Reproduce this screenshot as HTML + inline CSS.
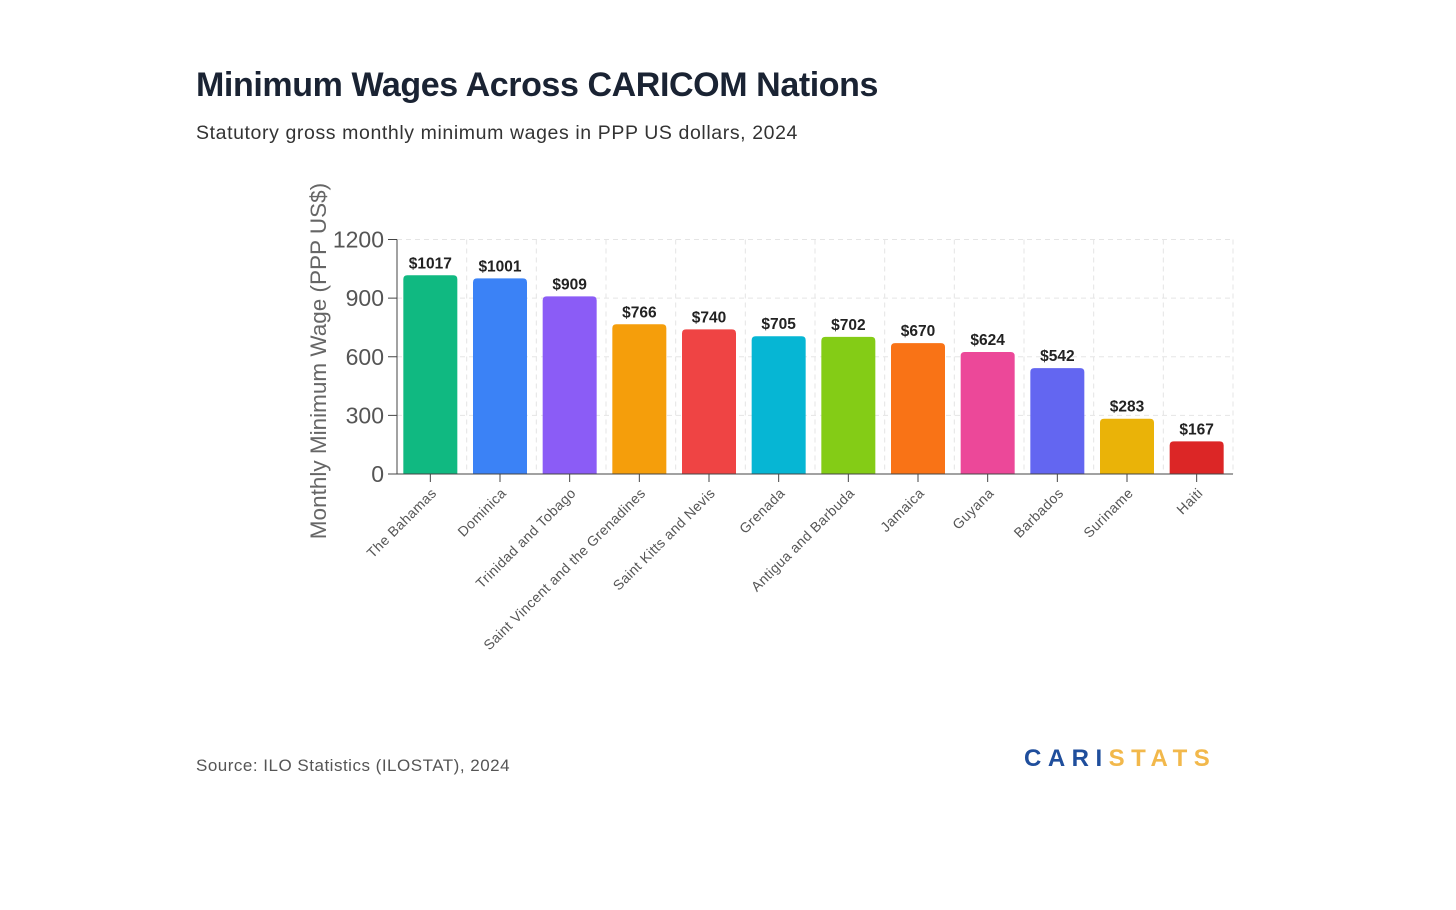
<!DOCTYPE html>
<html><head><meta charset="utf-8">
<style>
body{margin:0;background:#fff;width:1456px;height:910px;overflow:hidden;font-family:"Liberation Sans",sans-serif;}
#title{position:absolute;left:196px;top:66px;font-size:34px;font-weight:bold;color:#1a2333;letter-spacing:-0.4px;}
#subtitle{position:absolute;left:196px;top:122px;font-size:19.5px;color:#333;letter-spacing:0.6px;}
#source{position:absolute;left:196px;top:756px;font-size:17px;color:#555;letter-spacing:0.5px;}
#logo{position:absolute;left:1024px;top:745px;font-size:24px;font-weight:bold;letter-spacing:6.5px;}
svg{position:absolute;left:0;top:0;}
</style></head><body>
<div id="title">Minimum Wages Across CARICOM Nations</div>
<div id="subtitle">Statutory gross monthly minimum wages in PPP US dollars, 2024</div>
<div id="source">Source: ILO Statistics (ILOSTAT), 2024</div>
<div id="logo"><span style="color:#1f4e9c">CARI</span><span style="color:#f2b84b">STATS</span></div>
<svg id="chart" width="1456" height="910"></svg>
<script>
const categories=["The Bahamas","Dominica","Trinidad and Tobago","Saint Vincent and the Grenadines","Saint Kitts and Nevis","Grenada","Antigua and Barbuda","Jamaica","Guyana","Barbados","Suriname","Haiti"];
const values=[1017,1001,909,766,740,705,702,670,624,542,283,167];
const colors=["#10b981","#3b82f6","#8b5cf6","#f59e0b","#ef4444","#06b6d4","#84cc16","#f97316","#ec4899","#6366f1","#eab308","#dc2626"];
const yTicks=[0,300,600,900,1200];
const X0=397,X1=1233,Y0=474,Y1=239.5,YMAX=1200;
const band=(X1-X0)/categories.length;
const y=v=>Y0-(v/YMAX)*(Y0-Y1);
const xc=i=>X0-1.5+band*(i+0.5);
const svg=document.getElementById('chart');
const NS="http://www.w3.org/2000/svg";
function mk(t,a){const e=document.createElementNS(NS,t);for(const k in a)e.setAttribute(k,a[k]);svg.appendChild(e);return e;}
yTicks.forEach(t=>{
  const g=mk('line',{x1:X0,x2:X1,y1:y(t),y2:y(t),stroke:'#e5e5e5','stroke-dasharray':'5,4'});
  
  
  const tk=mk('line',{x1:X0-9,x2:X0,y1:y(t),y2:y(t),stroke:'#444'});
  
  
  const l=mk('text',{x:X0-13,y:y(t)+8,'text-anchor':'end','font-size':23,fill:'#555'});
  l.textContent=t;
  
  
});
categories.forEach((c,i)=>{
  const gx=X0+band*(i+1);
  const g=mk('line',{x1:gx,x2:gx,y1:Y1,y2:Y0,stroke:'#e5e5e5','stroke-dasharray':'5,4'});
  
  
});
const bw=54;
categories.forEach((c,i)=>{
  const x=xc(i)-bw/2,top=y(values[i]),h=Y0-top,r=4;
  const p=mk('path',{d:`M${x},${Y0}V${top+r}Q${x},${top} ${x+r},${top}H${x+bw-r}Q${x+bw},${top} ${x+bw},${top+r}V${Y0}Z`,fill:colors[i]});
  
  
  const v=mk('text',{x:xc(i),y:top-7,'text-anchor':'middle','font-size':15.5,'font-weight':'bold',fill:'#222'});
  v.textContent='$'+values[i];
  
  
  const tk=mk('line',{x1:xc(i),x2:xc(i),y1:Y0,y2:Y0+8,stroke:'#444'});
  
  
  const lx=xc(i)+7,ly=Y0+20;
  const l=mk('text',{x:lx,y:ly,'text-anchor':'end','font-size':14,fill:'#555','letter-spacing':'0.4',transform:`rotate(-45 ${lx} ${ly})`});
  l.textContent=c;
  
  
});
const ax=mk('line',{x1:X0,x2:X0,y1:Y1,y2:Y0,stroke:'#444'});


const bx=mk('line',{x1:X0,x2:X1,y1:Y0,y2:Y0,stroke:'#444'});


const yt=mk('text',{x:326,y:361,'text-anchor':'middle','font-size':22.5,fill:'#666',transform:'rotate(-90 326 361)'});
yt.textContent='Monthly Minimum Wage (PPP US$)';


</script>
</body></html>
